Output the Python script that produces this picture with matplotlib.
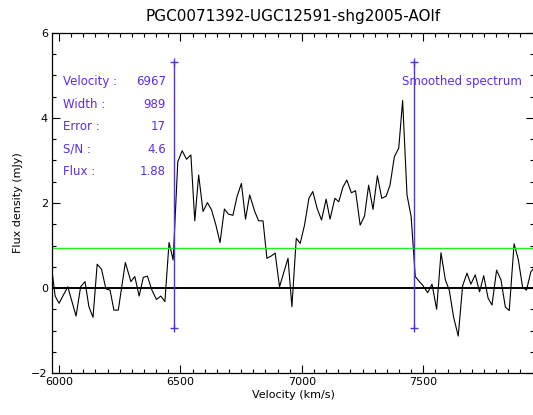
import matplotlib
matplotlib.use("Agg")
import matplotlib.pyplot as plt

# smoothed spectrum
velocity = [5966, 5984, 6000, 6036, 6070, 6089, 6107, 6123, 6140, 6157,
            6175, 6193, 6210, 6226, 6244, 6273, 6296, 6312, 6330, 6347,
            6364, 6381, 6401, 6419, 6436, 6453, 6470, 6489, 6507, 6525,
            6543, 6559, 6575, 6593, 6611, 6628, 6646, 6663, 6681, 6697,
            6716, 6733, 6751, 6768, 6785, 6806, 6822, 6840, 6856, 6873,
            6890, 6908, 6943, 6959, 6977, 6993, 7011, 7029, 7045, 7063,
            7081, 7100, 7116, 7136, 7152, 7169, 7185, 7204, 7221, 7240,
            7258, 7275, 7293, 7311, 7329, 7347, 7363, 7381, 7399, 7415,
            7433, 7450, 7467, 7484, 7497, 7518, 7536, 7555, 7573, 7591,
            7607, 7625, 7644, 7662, 7680, 7696, 7714, 7732, 7749, 7767,
            7783, 7802, 7820, 7838, 7854, 7874, 7891, 7909, 7925, 7943,
            7960]
flux = [0.62, -0.19, -0.36, 0.03, -0.66, 0.03, 0.15, -0.44, -0.69, 0.56,
        0.44, -0.02, -0.05, -0.52, -0.52, 0.60, 0.15, 0.27, -0.19, 0.25,
        0.28, -0.03, -0.27, -0.19, -0.32, 1.07, 0.66, 2.97, 3.23, 3.03,
        3.13, 1.58, 2.66, 1.80, 2.01, 1.84, 1.48, 1.07, 1.86, 1.74,
        1.71, 2.15, 2.46, 1.62, 2.19, 1.80, 1.58, 1.58, 0.70, 0.75,
        0.82, 0.03, 0.70, -0.44, 1.17, 1.05, 1.48, 2.11, 2.27, 1.87,
        1.60, 2.09, 1.62, 2.11, 2.03, 2.37, 2.54, 2.24, 2.29, 1.48,
        1.69, 2.42, 1.85, 2.64, 2.11, 2.16, 2.42, 3.09, 3.29, 4.41,
        2.19, 1.68, 0.27, 0.15, 0.07, -0.11, 0.09, -0.50, 0.83, 0.19,
        -0.05, -0.69, -1.13, 0.05, 0.35, 0.09, 0.31, -0.09, 0.29, -0.24,
        -0.40, 0.42, 0.19, -0.45, -0.53, 1.04, 0.68, 0.02, -0.05, 0.38,
        0.50]

edges = [6472.5, 7461.5]
edge_low, edge_high = -0.94, 5.32
rms_level = 0.93

labels = ["Velocity :", "Width :", "Error :", "S/N :", "Flux :"]
values = ["6967", "989", "17", "4.6", "1.88"]

blue = "#5a2cf0"

fig = plt.figure(figsize=(5.33, 4.15), dpi=100)
ax = fig.add_axes([52 / 533, 1 - 373 / 415, 482 / 533, 340 / 415])

ax.plot(velocity, flux, color="black", lw=0.8)
ax.axhline(0, color="black", lw=1.4)
ax.axhline(rms_level, color="#22ee22", lw=1.0)
for v in edges:
    ax.plot([v, v], [edge_low, edge_high], color=blue, lw=1.0,
            marker="+", markersize=6, markeredgewidth=1.0)

ax.set_xlim(5971, 7956)
ax.set_ylim(-2, 6)
ax.set_xticks([6000, 6500, 7000, 7500])
ax.set_yticks([-2, 0, 2, 4, 6])
ax.set_xticks(range(6000, 7951, 50), minor=True)
ax.set_yticks([-2 + 0.5 * i for i in range(17)], minor=True)
ax.tick_params(which="both", direction="in", top=True, right=True,
               labelsize=8, width=0.8)
ax.tick_params(which="major", length=5.5, pad=3)
ax.tick_params(which="minor", length=3)
for s in ax.spines.values():
    s.set_linewidth(0.9)

ax.set_xlabel("Velocity (km/s)", fontsize=8, labelpad=2)
ax.set_ylabel("Flux density (mJy)", fontsize=8, labelpad=6)
ax.set_title("PGC0071392-UGC12591-shg2005-AOlf", fontsize=11, pad=9)

for i, (lab, val) in enumerate(zip(labels, values)):
    y = 4.85 - i * 0.53
    ax.text(6016, y, lab, color=blue, fontsize=8.5, va="center", ha="left")
    ax.text(6440, y, val, color=blue, fontsize=8.5, va="center", ha="right")
ax.text(7414, 4.85, "Smoothed spectrum", color=blue, fontsize=8.5,
        va="center", ha="left")

fig.savefig("out.png", dpi=100)
